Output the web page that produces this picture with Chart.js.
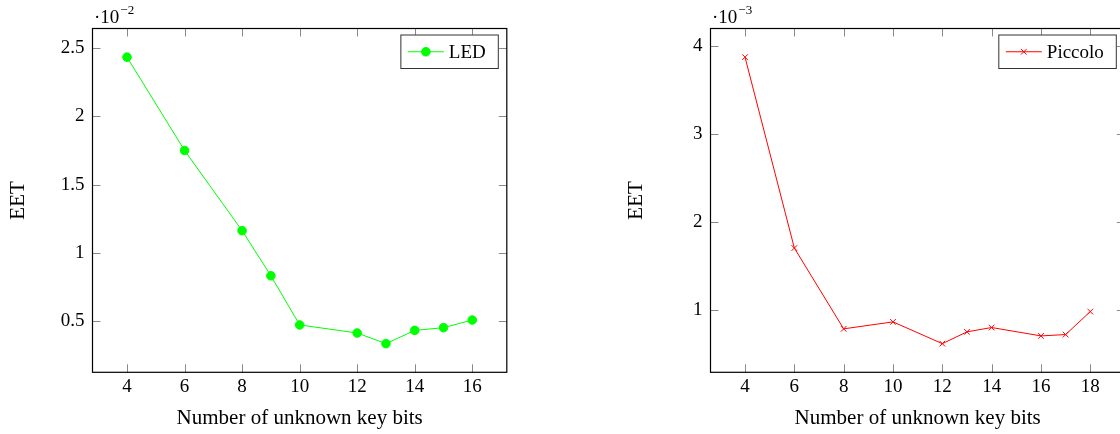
<!DOCTYPE html>
<html><head><meta charset="utf-8">
<script src="https://cdn.jsdelivr.net/npm/chart.js@4.4.0/dist/chart.umd.min.js"></script>
<style>
html,body{margin:0;padding:0;background:#fff;overflow:hidden;width:1120px;height:434px;position:relative;}
#c1{position:absolute;left:0;top:0;}
#c2{position:absolute;left:560px;top:0;}
</style></head><body>
<canvas id="c1" width="560" height="434"></canvas>
<canvas id="c2" width="580" height="434"></canvas>
<script>
// ---- data (values shown in units of 10^-2 for LED, 10^-3 for Piccolo) ----
const ledBits = [4, 6, 8, 9, 10, 12, 13, 14, 15, 16];
const ledEET = [2.434, 1.751, 1.164, 0.834, 0.474, 0.415, 0.337, 0.434, 0.454, 0.510];
const piccoloBits = [4, 6, 8, 10, 12, 13, 14, 16, 17, 18];
const piccoloEET = [3.872, 1.705, 0.788, 0.867, 0.620, 0.754, 0.803, 0.708, 0.723, 0.984];
const ledXTicks = [4, 6, 8, 10, 12, 14, 16];
const ledYTicks = [0.5, 1, 1.5, 2, 2.5];
const piccoloXTicks = [4, 6, 8, 10, 12, 14, 16, 18];
const piccoloYTicks = [1, 2, 3, 4];
const ledExponent = '−2';
const piccoloExponent = '−3';
const xTitle = 'Number of unknown key bits';
const yTitle = 'EET';

const FAMILY = '"Liberation Serif", "Times New Roman", serif';

function enlarge(arr) {
  const mn = Math.min(...arr), mx = Math.max(...arr), d = (mx - mn) * 0.1;
  return [mn - d, mx + d];
}

const decor = {
  id: 'decor',
  afterDatasetsDraw(chart, args, o) {
    const {ctx, chartArea: a, scales: {x, y}} = chart;
    ctx.save();
    // inward tick marks on all four sides
    ctx.strokeStyle = '#8a8a8a';
    ctx.lineWidth = 1;
    ctx.beginPath();
    for (const t of x.ticks) {
      const px = Math.round(x.getPixelForValue(t.value)) + 0.5;
      ctx.moveTo(px, a.bottom); ctx.lineTo(px, a.bottom - 8);
      ctx.moveTo(px, a.top); ctx.lineTo(px, a.top + 8);
    }
    for (const t of y.ticks) {
      const py = Math.round(y.getPixelForValue(t.value)) + 0.5;
      ctx.moveTo(a.left, py); ctx.lineTo(a.left + 8, py);
      ctx.moveTo(a.right, py); ctx.lineTo(a.right - 8, py);
    }
    ctx.stroke();
    // frame
    ctx.strokeStyle = '#000';
    ctx.lineWidth = 1.2;
    ctx.strokeRect(a.left, a.top, a.right - a.left, a.bottom - a.top);
    // legend
    const ds = chart.data.datasets[0];
    ctx.font = '19px ' + FAMILY;
    const tw = ctx.measureText(ds.label).width;
    const bw = 7 + 36 + 5 + tw + 12.5, bh = 33.5;
    const bx = a.right - 8.5 - bw, by = a.top + 6.5;
    ctx.fillStyle = '#fff';
    ctx.fillRect(bx, by, bw, bh);
    ctx.strokeStyle = '#333';
    ctx.lineWidth = 1;
    ctx.strokeRect(bx, by, bw, bh);
    const cy = by + bh / 2;
    ctx.strokeStyle = ds.borderColor;
    ctx.lineWidth = ds.borderWidth;
    ctx.beginPath(); ctx.moveTo(bx + 7, cy); ctx.lineTo(bx + 43, cy); ctx.stroke();
    ctx.fillStyle = ds.pointBackgroundColor;
    ctx.strokeStyle = ds.pointBorderColor;
    ctx.lineWidth = ds.pointBorderWidth;
    Chart.helpers.drawPoint(ctx, {pointStyle: ds.pointStyle, radius: ds.pointRadius, borderWidth: ds.pointBorderWidth, rotation: 0}, bx + 25, cy);
    ctx.fillStyle = '#000';
    ctx.textBaseline = 'middle';
    ctx.textAlign = 'left';
    ctx.fillText(ds.label, bx + 48, cy + 1);
    // exponent label
    ctx.textBaseline = 'alphabetic';
    ctx.font = '19px ' + FAMILY;
    const ex0 = a.left + 1.5;
    ctx.fillText('·10', ex0, a.top - 6);
    const w = ctx.measureText('·10').width;
    ctx.font = '13px ' + FAMILY;
    ctx.fillText(o.exponent, ex0 + w + 1, a.top - 15);
    ctx.restore();
  }
};

function makeChart(id, cfg) {
  const [ymin, ymax] = enlarge(cfg.yVals);
  const [xmin, xmax] = enlarge(cfg.xTicksRange);
  return new Chart(document.getElementById(id), {
    type: 'line',
    data: {
      datasets: [{
        label: cfg.label,
        data: cfg.xVals.map((v, i) => ({x: v, y: cfg.yVals[i]})),
        borderColor: cfg.color,
        backgroundColor: cfg.color,
        pointBackgroundColor: cfg.color,
        pointBorderColor: cfg.color,
        borderWidth: 1,
        pointBorderWidth: 1,
        pointStyle: cfg.pointStyle,
        pointRadius: cfg.pointRadius,
        tension: 0,
        fill: false
      }]
    },
    options: {
      responsive: false,
      animation: false,
      devicePixelRatio: 1,
      layout: {padding: cfg.padding},
      plugins: {legend: {display: false}, tooltip: {enabled: false}, decor: {exponent: cfg.exponent}},
      events: [],
      scales: {
        x: {
          type: 'linear', min: xmin, max: xmax,
          afterBuildTicks: s => { s.ticks = cfg.xTicks.map(v => ({value: v})); },
          afterFit: s => { s.height = 61.7; },
          grid: {display: false, drawTicks: false}, border: {display: false},
          ticks: {color: '#000', font: {family: FAMILY, size: 19}, padding: 3, maxRotation: 0, autoSkip: false, callback: v => String(v)},
          title: {display: true, text: xTitle, color: '#000', font: {family: FAMILY, size: 21}, padding: {top: 0, bottom: 2.5}}
        },
        y: {
          type: 'linear', min: ymin, max: ymax,
          afterBuildTicks: s => { s.ticks = cfg.yTicks.map(v => ({value: v})); },
          afterFit: s => { s.width = 92.5; },
          grid: {display: false, drawTicks: false}, border: {display: false},
          ticks: {color: '#000', font: {family: FAMILY, size: 19}, padding: 8, autoSkip: false, callback: v => String(v)},
          title: {display: true, text: yTitle, color: '#000', font: {family: FAMILY, size: 21}, padding: {top: 5.8, bottom: 0}}
        }
      }
    },
    plugins: [decor]
  });
}

makeChart('c1', {
  label: 'LED', xVals: ledBits, yVals: ledEET, xTicks: ledXTicks, yTicks: ledYTicks,
  xTicksRange: [ledBits[0], ledBits[ledBits.length - 1]],
  color: '#00ff00', pointStyle: 'circle', pointRadius: 4.3, exponent: ledExponent,
  padding: {left: 0, top: 28.5, right: 53.2, bottom: 0}
});
makeChart('c2', {
  label: 'Piccolo', xVals: piccoloBits, yVals: piccoloEET, xTicks: piccoloXTicks, yTicks: piccoloYTicks,
  xTicksRange: [piccoloBits[0], piccoloBits[piccoloBits.length - 1]],
  color: '#ff0000', pointStyle: 'crossRot', pointRadius: 4, exponent: piccoloExponent,
  padding: {left: 58, top: 28.5, right: 15.2, bottom: 0}
});
</script>
</body></html>
